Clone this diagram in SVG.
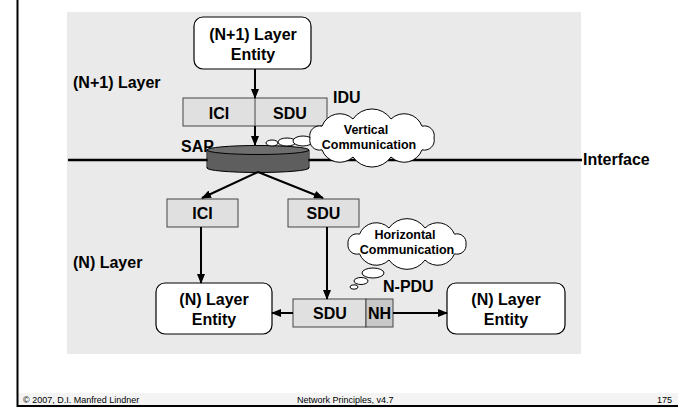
<svg xmlns="http://www.w3.org/2000/svg" width="678" height="409" viewBox="0 0 678 409">
<style>
.t{font-family:"Liberation Sans",Arial,sans-serif;font-weight:bold;font-size:16px;fill:#000}
.c{text-anchor:middle}
.s{font-size:12.5px}
.f{font-family:"Liberation Sans",Arial,sans-serif;font-size:9px;fill:#000}
.ent{fill:#fff;stroke:#000;stroke-width:1.2}
.box{fill:#e0e0e0;stroke:#444;stroke-width:1}
.nh{fill:#c8c8c8;stroke:#444;stroke-width:1}
.cl{fill:#fff;stroke:#000;stroke-width:1}
.ar{stroke:#000;stroke-width:2;fill:none;marker-end:url(#ah)}
</style>
<defs>
<marker id="ah" viewBox="0 0 10 8" refX="9" refY="4" markerWidth="10" markerHeight="8" markerUnits="userSpaceOnUse" orient="auto">
<path d="M0,0 L10,4 L0,8 z" fill="#000"/>
</marker>
</defs>
<rect x="0" y="0" width="678" height="409" fill="#fff"/>
<rect x="17" y="393" width="661" height="13" fill="#f4f4f4"/>
<line x1="17.5" y1="0" x2="17.5" y2="407" stroke="#000" stroke-width="2"/>
<line x1="17" y1="406" x2="678" y2="406" stroke="#000" stroke-width="2"/>
<rect x="67" y="12" width="514" height="342" fill="#eaeaea"/>

<g id="labels">
<text class="t" x="73" y="88">(N+1) Layer</text>
<text class="t" x="73" y="268">(N) Layer</text>
<text class="t" x="333" y="103">IDU</text>
<text class="t" x="181" y="152">SAP</text>
<text class="t" x="583" y="165">Interface</text>
<text class="t" x="383" y="292">N-PDU</text>
</g>

<line id="interface" x1="68" y1="160" x2="582" y2="160" stroke="#000" stroke-width="2.5"/>

<g id="n1entity">
<rect class="ent" x="194" y="17" width="117" height="52" rx="9"/>
<text class="t c" x="253" y="40">(N+1) Layer</text>
<text class="t c" x="253" y="60">Entity</text>
</g>

<g id="idu">
<rect class="box" x="183" y="98" width="144" height="28"/>
<line x1="255" y1="98" x2="255" y2="126" stroke="#444" stroke-width="1"/>
<text class="t c" x="219" y="119">ICI</text>
<text class="t c" x="290" y="119">SDU</text>
</g>

<g id="sap">
<ellipse cx="258" cy="168" rx="51" ry="4.5" fill="#5e5e5e" stroke="#000" stroke-width="1"/>
<rect x="207.5" y="150" width="101" height="18" fill="#5e5e5e"/>
<line x1="207" y1="150" x2="207" y2="168" stroke="#000"/>
<line x1="309" y1="150" x2="309" y2="168" stroke="#000"/>
<ellipse cx="258" cy="150" rx="51" ry="4.5" fill="#6e6e6e" stroke="#000" stroke-width="1"/>
</g>

<g id="vcloud">
<ellipse cx="272" cy="143" rx="6" ry="3" class="cl"/>
<ellipse cx="287" cy="142" rx="9" ry="4" class="cl"/>
<ellipse cx="303" cy="141" rx="10" ry="5" class="cl"/>
<path class="cl" d="M434,138 A9.8,9.8 0 0 1 422,149.8 A19,19 0 0 1 391,157 A23,23 0 0 1 353,157 A19,19 0 0 1 322,149.8 A9.8,9.8 0 0 1 310,138 A9.8,9.8 0 0 1 322,126.2 A19,19 0 0 1 353,119 A23,23 0 0 1 391,119 A19,19 0 0 1 422,126.2 A9.8,9.8 0 0 1 434,138 Z"/>
<text class="t s c" x="366" y="134">Vertical</text>
<text class="t s c" x="369" y="149">Communication</text>
</g>

<g id="ici">
<rect class="box" x="167" y="199" width="71" height="28"/>
<text class="t c" x="202.5" y="219">ICI</text>
</g>

<g id="sdu">
<rect class="box" x="288" y="199" width="71" height="28"/>
<text class="t c" x="323.5" y="219">SDU</text>
</g>

<g id="hcloud">
<path class="cl" d="M466,244 A9,9 0 0 1 454.5,253.8 A18,18 0 0 1 425,260 A22,22 0 0 1 389,260 A18,18 0 0 1 359.5,253.8 A9,9 0 0 1 348,244 A9,9 0 0 1 359.5,234.2 A18,18 0 0 1 389,228 A22,22 0 0 1 425,228 A18,18 0 0 1 454.5,234.2 A9,9 0 0 1 466,244 Z"/>
<ellipse cx="373" cy="273" rx="11" ry="5" class="cl"/>
<ellipse cx="361" cy="281" rx="7" ry="3.5" class="cl"/>
<ellipse cx="354" cy="287" rx="4" ry="2.2" class="cl"/>
<text class="t s c" x="405" y="239">Horizontal</text>
<text class="t s c" x="407" y="254">Communication</text>
</g>

<g id="nentity1">
<rect class="ent" x="156" y="283" width="116" height="51" rx="9"/>
<text class="t c" x="214" y="305">(N) Layer</text>
<text class="t c" x="214" y="325">Entity</text>
</g>

<g id="npdu">
<rect class="box" x="293" y="299" width="73" height="28"/>
<rect class="nh" x="366" y="299" width="27" height="28"/>
<text class="t c" x="330" y="319">SDU</text>
<text class="t c" x="379.5" y="319">NH</text>
</g>

<g id="nentity2">
<rect class="ent" x="447" y="283" width="118" height="51" rx="9"/>
<text class="t c" x="506" y="305">(N) Layer</text>
<text class="t c" x="506" y="325">Entity</text>
</g>

<g id="connectors">
<line class="ar" x1="255" y1="69" x2="255" y2="98"/>
<line class="ar" x1="255" y1="126" x2="255" y2="145"/>
<line class="ar" x1="258" y1="172" x2="202" y2="198"/>
<line class="ar" x1="258" y1="172" x2="323" y2="198"/>
<line class="ar" x1="201" y1="227" x2="201" y2="283"/>
<line class="ar" x1="327" y1="227" x2="327" y2="299"/>
<line class="ar" x1="293" y1="313" x2="272" y2="313"/>
<line class="ar" x1="393" y1="313" x2="447" y2="313"/>
</g>

<g id="footer">
<text class="f" x="23" y="403">© 2007, D.I. Manfred Lindner</text>
<text class="f" x="297" y="403">Network Principles, v4.7</text>
<text class="f" x="657" y="403">175</text>
</g>
</svg>
